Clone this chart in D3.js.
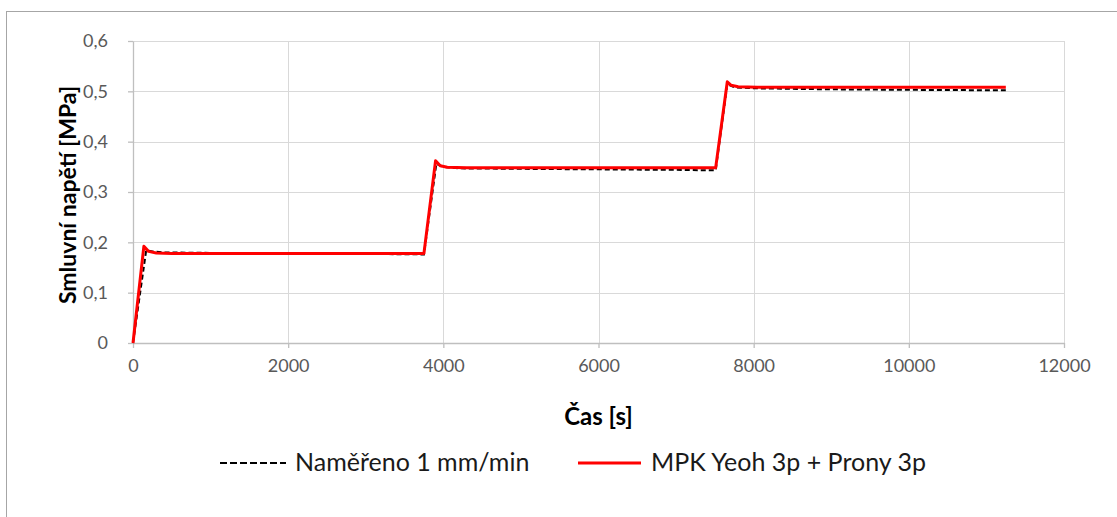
<!DOCTYPE html>
<html>
<head>
<meta charset="utf-8">
<script src="https://cdn.jsdelivr.net/npm/d3@7/dist/d3.min.js"></script>
<style>
  html, body { margin: 0; padding: 0; background: #fff; }
  svg { display: block; }
  text { font-family: Lato, "Open Sans", sans-serif; }
</style>
</head>
<body>
<svg id="chart" width="1117" height="517"></svg>
<script>
// Measured stress relaxation (1 mm/min) and the FEM model response
const measuredTime  = [0, 170, 250, 400, 1000, 2000, 3000, 3750, 3910, 4000, 4200, 5000, 6000, 7000, 7510, 7660, 7750, 8000, 9000, 10000, 11250];
const measuredValue = [0, 0.184, 0.182, 0.180, 0.179, 0.178, 0.177, 0.176, 0.356, 0.350, 0.347, 0.346, 0.345, 0.344, 0.343, 0.514, 0.508, 0.506, 0.504, 0.503, 0.502];

const modelTime  = [0, 140, 200, 300, 500, 1000, 2000, 3000, 3750, 3900, 3960, 4050, 4300, 5000, 6000, 7000, 7510, 7660, 7710, 7800, 8050, 9000, 10000, 11250];
const modelValue = [0, 0.192, 0.182, 0.179, 0.178, 0.178, 0.178, 0.178, 0.178, 0.362, 0.352, 0.349, 0.348, 0.348, 0.348, 0.348, 0.348, 0.519, 0.512, 0.509, 0.508, 0.508, 0.508, 0.508];

const xTicks = [0, 2000, 4000, 6000, 8000, 10000, 12000];
const yTicks = [0, 0.1, 0.2, 0.3, 0.4, 0.5, 0.6];

const seriesNames = ["Naměřeno 1 mm/min", "MPK Yeoh 3p + Prony 3p"];
const xTitle = "Čas [s]";
const yTitle = "Smluvní napětí [MPa]";

const svg = d3.select("#chart");
const W = 1117, H = 517;
const plot = { left: 133, right: 1064, top: 41, bottom: 343 };

// Outer chart frame
svg.append("rect")
  .attr("x", 6.5).attr("y", 11.5)
  .attr("width", W + 10).attr("height", H + 10)
  .attr("fill", "#fff").attr("stroke", "#a6a6a6").attr("stroke-width", 1);

const x = d3.scaleLinear().domain([0, 12000]).range([plot.left, plot.right]);
const y = d3.scaleLinear().domain([0, 0.6]).range([plot.bottom, plot.top]);

const yFmt = d => d === 0 ? "0" : d3.format(".1f")(d).replace(".", ",");

// Gridlines
svg.append("g")
  .selectAll("line").data(yTicks.filter(d => d > 0)).join("line")
  .attr("x1", plot.left).attr("x2", plot.right)
  .attr("y1", d => Math.round(y(d)) + 0.5).attr("y2", d => Math.round(y(d)) + 0.5)
  .attr("stroke", "#d9d9d9").attr("stroke-width", 1);
svg.append("g")
  .selectAll("line").data(xTicks.filter(d => d > 0)).join("line")
  .attr("y1", plot.top).attr("y2", plot.bottom)
  .attr("x1", d => Math.round(x(d)) + 0.5).attr("x2", d => Math.round(x(d)) + 0.5)
  .attr("stroke", "#d9d9d9").attr("stroke-width", 1);

// Axes
const xAxis = d3.axisBottom(x).tickValues(xTicks).tickFormat(d3.format("d")).tickSizeInner(5).tickSizeOuter(0).tickPadding(11);
const yAxis = d3.axisLeft(y).tickValues(yTicks).tickFormat(yFmt).tickSizeInner(5).tickSizeOuter(0).tickPadding(20);

const gx = svg.append("g").attr("transform", `translate(0,${plot.bottom})`).call(xAxis);
const gy = svg.append("g").attr("transform", `translate(${plot.left},0)`).call(yAxis);
[gx, gy].forEach(g => {
  g.select(".domain").attr("stroke", "#bfbfbf").attr("stroke-width", 1.3);
  g.selectAll(".tick line").attr("stroke", "#bfbfbf").attr("stroke-width", 1.3);
  g.selectAll(".tick text").attr("fill", "#595959").style("font-size", "18px").style("font-family", "Lato, sans-serif");
});

// Axis titles
svg.append("text")
  .attr("x", (plot.left + plot.right) / 2).attr("y", 425)
  .attr("text-anchor", "middle")
  .style("font-size", "24px").style("font-weight", "bold").attr("fill", "#000")
  .text(xTitle);
svg.append("text")
  .attr("transform", `translate(76,${(plot.top + plot.bottom) / 2 + 3}) rotate(-90)`)
  .attr("text-anchor", "middle")
  .style("font-size", "23px").style("font-weight", "bold").attr("fill", "#000")
  .text(yTitle);

// Series lines
const line = d3.line().x(d => x(d[0])).y(d => y(d[1]));
const measured = measuredTime.map((t, i) => [t, measuredValue[i]]);
const model = modelTime.map((t, i) => [t, modelValue[i]]);

svg.append("path").datum(measured)
  .attr("d", line).attr("fill", "none")
  .attr("stroke", "#000").attr("stroke-width", 2)
  .attr("stroke-dasharray", "5,3");
svg.append("path").datum(model)
  .attr("d", line).attr("fill", "none")
  .attr("stroke", "#ff0000").attr("stroke-width", 3)
  .attr("stroke-linejoin", "round");

// Legend
const legY = 463;
const legend = svg.append("g");
legend.append("line")
  .attr("x1", 220).attr("x2", 286).attr("y1", legY).attr("y2", legY)
  .attr("stroke", "#000").attr("stroke-width", 2).attr("stroke-dasharray", "7,3");
legend.append("text")
  .attr("x", 295).attr("y", legY + 8)
  .style("font-size", "25px").attr("fill", "#1a1a1a")
  .text(seriesNames[0]);
legend.append("line")
  .attr("x1", 578).attr("x2", 641).attr("y1", legY).attr("y2", legY)
  .attr("stroke", "#ff0000").attr("stroke-width", 3);
legend.append("text")
  .attr("x", 651).attr("y", legY + 8)
  .style("font-size", "25px").attr("fill", "#1a1a1a")
  .text(seriesNames[1]);
</script>
</body>
</html>
